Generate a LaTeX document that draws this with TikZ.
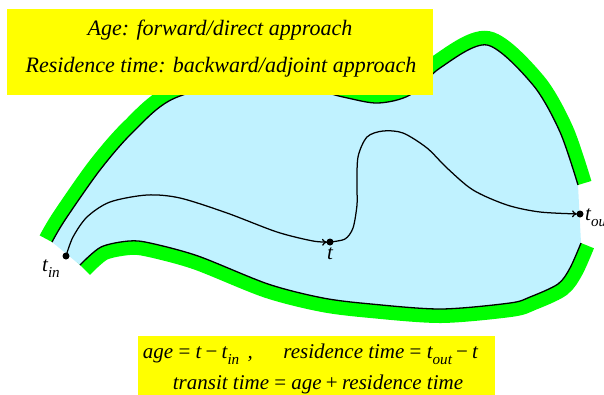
\documentclass[tikz,border=0pt]{standalone}
\usepackage{fontspec}
\setmainfont{Liberation Serif}
\usetikzlibrary{arrows.meta}
\definecolor{regionblue}{RGB}{192,242,255}
\definecolor{bandgreen}{RGB}{0,255,0}
\definecolor{boxyellow}{RGB}{255,255,0}
\newcommand\mysub[1]{\raisebox{-0.3em}{\fontsize{0.72em}{1em}\selectfont\itshape #1}}
\newcommand\relsp{\hspace{0.25em}}
\newcommand\binsp{\hspace{0.2em}}
\begin{document}
\begin{tikzpicture}[x=1pt,y=-1pt,
  band/.style={draw=bandgreen, line width=28pt},
  edgeline/.style={draw=black, line width=1.3pt},
  traj/.style={draw=black, line width=1.25pt, -{To[length=5pt,width=7pt]}, shorten >=3pt},
  dot/.style={circle, fill=black, inner sep=0pt, minimum size=7pt},
  lab/.style={font=\fontsize{21}{24}\selectfont\itshape, inner sep=0pt},
  notebox/.style={fill=boxyellow, draw=none},
  toptext/.style={font=\fontsize{22}{26}\selectfont\itshape, inner sep=0pt, anchor=base},
  bottext/.style={font=\fontsize{21}{24}\selectfont\itshape, inner sep=0pt, anchor=base}]
\useasboundingbox (0,0) rectangle (604,394);
% green bands
\draw[band] plot[smooth] coordinates {(52,242) (65,220) (100,170) (133,132) (175,98) (260,78) (343,97) (378,103) (410,95) (440,68) (487,45) (533,85) (560,132) (578,185)};
\draw[band] plot[smooth] coordinates {(581,243) (570,268) (558,284) (530,297) (510,303) (441,309) (371,304) (323,298) (268,284) (198,256) (150,243) (129,241) (101,247) (80,265)};
% region
\fill[regionblue] plot[smooth] coordinates {(52,242) (65,220) (100,170) (133,132) (175,98) (260,78) (343,97) (378,103) (410,95) (440,68) (487,45) (533,85) (560,132) (578,185)}
  -- plot[smooth] coordinates {(581,243) (570,268) (558,284) (530,297) (510,303) (441,309) (371,304) (323,298) (268,284) (198,256) (150,243) (129,241) (101,247) (80,265)} -- cycle;
% black boundaries
\draw[edgeline] plot[smooth] coordinates {(52,242) (65,220) (100,170) (133,132) (175,98) (260,78) (343,97) (378,103) (410,95) (440,68) (487,45) (533,85) (560,132) (578,185)};
\draw[edgeline] plot[smooth] coordinates {(581,243) (570,268) (558,284) (530,297) (510,303) (441,309) (371,304) (323,298) (268,284) (198,256) (150,243) (129,241) (101,247) (80,265)};
% points
\node[dot] (tin) at (66,256) {};
\node[dot] (t) at (330,242) {};
\node[dot] (tout) at (580,214) {};
% trajectory
\draw[traj] plot[smooth] coordinates {(tin.center) (73,237) (87,217) (110,202) (147,195) (180,198) (227,213) (277,232) (313,241) (t.center)};
\draw[traj] plot[smooth] coordinates {(t.center) (345,239) (353,228) (357,205) (357,187) (358,157) (367,137) (383,131) (403,133) (427,148) (447,168) (473,190) (507,205) (540,212) (tout.center)};
% labels
\node[lab, anchor=base west] (ltin) at (42,271) {t\mysub{in}};
\node[lab, anchor=base] (lt) at (330,259) {t};
\node[lab, anchor=base west] (ltout) at (585,220) {t\mysub{out}};
% top box
\node[notebox, minimum width=426pt, minimum height=86pt, inner sep=0pt] (topbox) at (220,52) {};
\node[toptext] (tl1) at (220,35) {Age: forward/direct approach};
\node[toptext] (tl2) at (221,72) {Residence time: backward/adjoint approach};
% bottom box
\node[notebox, minimum width=357pt, minimum height=60pt, inner sep=0pt] (botbox) at (316.5,366) {};
\node[bottext] (bl1) at (310.5,358) {age\relsp{\upshape =}\relsp t\binsp{\upshape −}\binsp t\mysub{in}\hspace{0.4em},\hspace{1.45em}residence time\relsp{\upshape =}\relsp t\mysub{out}\binsp{\upshape −}\binsp t};
\node[bottext] (bl2) at (318,389) {transit time\relsp{\upshape =}\relsp age\binsp{\upshape +}\binsp residence time};
\end{tikzpicture}
\end{document}
